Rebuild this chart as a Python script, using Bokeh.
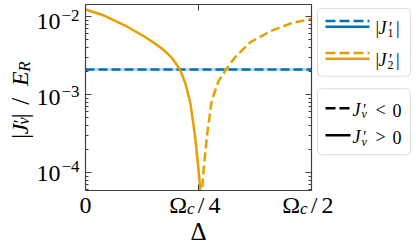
import math
from bokeh.plotting import figure
from bokeh.models import (Range1d, FixedTicker, LinearAxis, LogAxis,
                          BoxAnnotation, CustomJSTickFormatter)
from bokeh.layouts import row, column
from bokeh.core.properties import value
from bokeh.embed import file_html
from bokeh.resources import INLINE

# ---------------- data ----------------
# detuning Delta in units of Omega_c
delta_pos = [0.0, 0.0411, 0.0856, 0.1300, 0.1522, 0.1744, 0.1922, 0.2091,
             0.2211, 0.2322, 0.2424, 0.2496, 0.2536, 0.2550]
# J2' > 0 (solid), in units of E_R
j2_pos = [1.23e-2, 1.03e-2, 7.78e-3, 5.54e-3, 4.57e-3, 3.66e-3, 2.90e-3,
          2.09e-3, 1.38e-3, 7.67e-4, 2.90e-4, 1.16e-4, 6.4e-5, 3.0e-5]
# J2' < 0 (dashed), |J2'|
delta_neg = [0.2566, 0.2582, 0.2618, 0.2693, 0.2793, 0.2944, 0.3111,
             0.3322, 0.3656, 0.4100, 0.4544, 0.5]
j2_neg = [3.0e-5, 6.24e-5, 1.17e-4, 3.13e-4, 8.38e-4, 1.49e-3, 2.09e-3,
          3.07e-3, 4.71e-3, 6.52e-3, 8.17e-3, 9.35e-3]
# |J1'| (J1' < 0, dashed)
delta_j1 = [0.0, 0.5]
j1 = [2.09e-3, 2.09e-3]

x_ticks = [0.0, 0.25, 0.5]
x_tick_den = [None, "4", "2"]      # 0, Omega_c/4, Omega_c/2
y_tick_exps = [-2, -3, -4]
legend_series_subs = ["1", "2"]
legend_sign_ops = ["<", ">"]

# ---------------- style / geometry ----------------
BLUE = "#0072B2"
ORANGE = "#E69F00"
AXC = "#404040"
SERIF = "Liberation Serif"
DESC = 0.21        # baseline correction (fraction of font size)

X_MIN, X_MAX = 0.0, 0.5
LY_MIN, LY_MAX = -4.231, -1.846

W_TOT = 414
H_TOP = 192
H_BOT = 52
B_TOP = 196        # where the bottom panel lands on the page
W_LEFT = 82
FL, FR, FT, FB = 85, 311, 4, 190          # frame edges on the page
W_MAIN = (FR - W_LEFT) + 5                # main figure incl. right border
W_LEG = W_TOT - W_LEFT - W_MAIN

p = figure(width=W_MAIN, height=H_TOP, x_range=Range1d(X_MIN, X_MAX),
           y_range=Range1d(10 ** LY_MIN, 10 ** LY_MAX), y_axis_type="log",
           toolbar_location=None, output_backend="svg", title=None,
           min_border_left=FL - W_LEFT, min_border_right=5,
           min_border_top=FT, min_border_bottom=H_TOP - FB)
p.xgrid.visible = False
p.ygrid.visible = False
p.outline_line_color = None
p.background_fill_color = "white"
p.border_fill_color = "white"

xt = FixedTicker(ticks=x_ticks, minor_ticks=[])
yt = FixedTicker(ticks=[10.0 ** e for e in y_tick_exps],
                 minor_ticks=[m * 10.0 ** e for e in (-5, -4, -3, -2) for m in range(2, 10)])


def style_axis(ax, ticker):
    ax.ticker = ticker
    ax.formatter = CustomJSTickFormatter(code="return ''")
    ax.major_label_text_font_size = "0px"
    ax.major_label_standoff = 0
    ax.major_tick_in = 6
    ax.major_tick_out = 0
    ax.minor_tick_in = 3
    ax.minor_tick_out = 0
    ax.axis_line_color = AXC
    ax.major_tick_line_color = AXC
    ax.minor_tick_line_color = AXC
    ax.axis_line_width = 1.2
    ax.major_tick_line_width = 1
    ax.minor_tick_line_width = 1


style_axis(p.xaxis[0], xt)
style_axis(p.yaxis[0], yt)
top_ax = LinearAxis()
style_axis(top_ax, xt)
p.add_layout(top_ax, "above")
right_ax = LogAxis()
style_axis(right_ax, yt)
p.add_layout(right_ax, "right")

# curves
p.line(delta_j1, j1, line_color=BLUE, line_width=2.5, line_alpha=0.3)
p.line(delta_j1, j1, line_color=BLUE, line_width=2.5, line_dash="9 4")
p.line(delta_pos, j2_pos, line_color=ORANGE, line_width=2.5)
p.line(delta_neg, j2_neg, line_color=ORANGE, line_width=2.5, line_dash="9 4")


# ---------------- helper panels for text around the frame ----------------
def panel(w, h):
    f = figure(width=w, height=h, x_range=Range1d(0, w), y_range=Range1d(0, h),
               toolbar_location=None, output_backend="svg", min_border=0,
               title=None, x_axis_location=None, y_axis_location=None)
    f.grid.visible = False
    f.outline_line_color = None
    f.background_fill_color = "white"
    f.border_fill_color = "white"
    return f


def put(f, h, text, px, py, size, style="normal", align="left", angle=0.0):
    # px, py: wanted baseline anchor in panel pixels (y downwards)
    if angle:
        px = px - DESC * size
    else:
        py = py - DESC * size
    f.text(x=[px], y=[h - py], text=[text], text_font=value(SERIF),
           text_font_size=value(f"{size}px"), text_font_style=style,
           text_align=align, text_baseline="alphabetic", angle=angle,
           text_color="black")


def tx(x):
    return FL + (x - X_MIN) / (X_MAX - X_MIN) * (FR - FL)


def ty(e):
    return FT + (LY_MAX - e) / (LY_MAX - LY_MIN) * (FB - FT)


# left panel: y tick labels and y axis label
L = panel(W_LEFT, H_TOP)
for e in y_tick_exps:
    t = ty(e)
    put(L, H_TOP, "10", 60, t + 7, 24, align="right")
    put(L, H_TOP, "\u2212" + str(-e), 61, t - 1, 17)

BX = 25
R90 = math.pi / 2
put(L, H_TOP, "|", BX, 138.5, 24, angle=R90)
put(L, H_TOP, "J", BX, 134, 24, style="italic", angle=R90)
put(L, H_TOP, "\u2032", BX - 1, 122.5, 18, angle=R90)
put(L, H_TOP, "v", BX + 1.5, 124, 17, style="italic", angle=R90)
put(L, H_TOP, "|", BX, 117.5, 24, angle=R90)
put(L, H_TOP, "/", BX, 100, 25, align="center", angle=R90)
put(L, H_TOP, "E", BX, 84, 24, style="italic", angle=R90)
put(L, H_TOP, "R", BX + 3, 69.5, 17, style="italic", angle=R90)

# bottom panel: x tick labels and x axis label
B = panel(W_TOT, H_BOT)
XB = 214 - B_TOP
for x, den in zip(x_ticks, x_tick_den):
    c = tx(x)
    if den is None:
        put(B, H_BOT, "0", c, XB, 24, align="center")
    else:
        put(B, H_BOT, "\u03a9", c - 11.5, XB, 24, align="right")
        put(B, H_BOT, "c", c - 11.5, XB + 2, 17, style="italic")
        put(B, H_BOT, "/", c + 2.5, XB, 24, align="center")
        put(B, H_BOT, den, c + 10, XB, 24)
put(B, H_BOT, "\u0394", (FL + FR) / 2, 240 - B_TOP, 25, align="center")

# legend panel
Q = panel(W_LEG, H_TOP)
OX = W_LEFT + W_MAIN   # page x of the legend panel


def qline(x0, x1, py, color, dash="solid"):
    Q.line([x0 - OX, x1 - OX], [H_TOP - py, H_TOP - py], line_color=color,
           line_width=2.5, line_dash=dash)


def qtext(text, px, py, size, style="normal"):
    put(Q, H_TOP, text, px - OX, py, size, style=style)


for (top, bot) in [(4, 74), (87, 155)]:
    Q.add_layout(BoxAnnotation(left=317 - OX, right=min(410 - OX, W_LEG - 1),
                               top=H_TOP - top, bottom=H_TOP - bot,
                               fill_color="white", fill_alpha=1.0,
                               line_color="#8a8a8a", line_width=1,
                               border_radius=4, level="underlay"))

for (dash_y, color, sub) in [(17, BLUE, legend_series_subs[0]),
                             (50, ORANGE, legend_series_subs[1])]:
    qline(325, 369, dash_y, color, "10 4")
    qline(325, 369, dash_y + 6, color)
    b = dash_y + 11
    qtext("|", 375, b, 18)
    qtext("J", 378, b, 18, style="italic")
    qtext("\u2032", 388.5, b - 1, 16)
    qtext(sub, 387, b + 3.5, 12)
    qtext("|", 395.5, b, 18)

for (ly_, dash, op) in [(107, "10 4", legend_sign_ops[0]),
                        (135, "solid", legend_sign_ops[1])]:
    qline(325, 350, ly_, "black", dash)
    b = ly_ + 6
    qtext("J", 352, b, 18, style="italic")
    qtext("\u2032", 362.5, b - 1, 16)
    qtext("v", 361, b + 3, 12, style="italic")
    qtext(op, 375, b, 18)
    qtext("0", 392, b, 18)

layout = column(row(L, p, Q), B)
open("out.html", "w").write(file_html(layout, INLINE))
